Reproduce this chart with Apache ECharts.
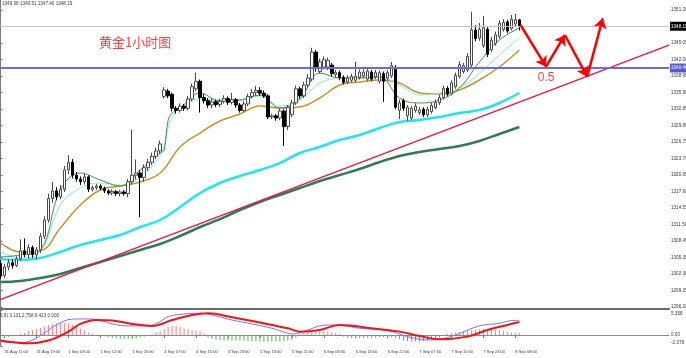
<!DOCTYPE html>
<html><head><meta charset="utf-8">
<script src="https://cdn.jsdelivr.net/npm/echarts@6/dist/echarts.min.js"></script>
<style>html,body{margin:0;padding:0;background:#fff}#c{width:686px;height:358px}</style>
</head><body><div id="c"></div>
<script>
// ---------- data ----------
const barOpen  = [1304.3,1302.0,1303.6,1304.4,1303.9,1305.1,1306.6,1305.9,1307.2,1305.9,1306.8,1309.3,1312.3,1316.3,1317.7,1316.6,1318.0,1321.6,1323.0,1320.6,1319.9,1319.4,1320.3,1318.0,1318.3,1318.6,1318.2,1317.7,1317.3,1317.6,1317.2,1317.5,1317.2,1319.4,1320.6,1321.0,1320.2,1322.0,1323.0,1324.1,1325.1,1335.2,1336.2,1335.6,1333.0,1332.6,1333.4,1333.0,1334.7,1336.6,1338.0,1335.0,1334.4,1333.6,1334.2,1333.7,1334.3,1334.8,1334.1,1334.6,1333.6,1332.6,1333.8,1335.2,1335.9,1336.3,1335.8,1335.3,1331.4,1331.6,1331.2,1332.5,1329.6,1331.8,1334.0,1336.6,1335.3,1337.3,1338.4,1343.4,1339.8,1340.6,1340.6,1341.0,1339.2,1339.6,1338.7,1337.9,1338.2,1338.2,1338.7,1339.0,1338.4,1339.7,1338.8,1338.0,1339.4,1338.6,1339.0,1340.6,1332.6,1334.4,1331.6,1331.2,1332.6,1332.2,1332.8,1331.8,1332.4,1333.1,1334.0,1335.0,1336.7,1335.8,1337.0,1338.9,1339.8,1340.1,1341.0,1347.5,1346.0,1344.6,1347.6,1343.8,1345.0,1346.3,1347.6,1349.0,1347.8,1348.6,1349.38];
const barClose = [1301.9,1303.6,1304.4,1303.9,1305.1,1306.6,1305.9,1307.2,1305.9,1306.8,1309.3,1312.3,1316.3,1317.7,1316.6,1318.0,1321.6,1323.0,1320.6,1319.9,1319.4,1320.3,1318.0,1318.3,1318.6,1318.2,1317.7,1317.3,1317.6,1317.2,1317.5,1317.2,1319.4,1320.6,1321.0,1320.2,1322.0,1323.0,1324.1,1325.1,1326.4,1336.4,1335.3,1333.0,1332.6,1333.4,1333.0,1334.7,1337.0,1338.0,1335.0,1334.4,1333.6,1334.2,1333.7,1334.3,1334.8,1334.1,1334.6,1333.6,1332.6,1333.8,1335.2,1335.9,1336.3,1335.8,1335.3,1331.4,1331.6,1331.2,1332.5,1329.6,1333.2,1334.0,1336.6,1335.3,1337.3,1338.6,1343.4,1340.4,1341.6,1342.0,1341.9,1339.4,1339.6,1338.7,1337.8,1338.6,1338.9,1338.9,1339.7,1339.7,1339.9,1338.4,1339.6,1339.6,1338.0,1339.6,1340.9,1333.2,1334.0,1333.0,1333.2,1333.0,1333.4,1332.7,1331.8,1332.8,1333.5,1334.1,1335.0,1336.7,1335.6,1337.7,1339.1,1341.1,1340.9,1342.6,1347.5,1345.9,1347.6,1347.9,1343.0,1345.6,1346.6,1348.7,1348.9,1347.3,1349.5,1349.4,1348.19];
const barHigh  = [1304.9,1304.2,1305.0,1305.0,1305.6,1308.7,1308.9,1307.8,1307.6,1307.3,1309.9,1313.0,1317.2,1319.4,1318.4,1318.8,1322.3,1324.3,1323.6,1321.2,1320.4,1320.9,1320.6,1318.7,1319.0,1318.9,1318.5,1318.0,1318.0,1317.9,1317.9,1317.8,1319.9,1329.0,1323.5,1321.6,1322.6,1323.6,1324.8,1325.7,1327.0,1336.9,1336.6,1335.9,1333.4,1333.9,1333.8,1335.3,1337.6,1339.6,1338.3,1335.6,1334.9,1334.8,1334.6,1334.8,1335.4,1335.2,1335.8,1334.9,1334.0,1334.4,1335.7,1336.6,1337.1,1336.9,1336.3,1335.6,1332.0,1331.9,1333.0,1332.8,1333.6,1334.6,1337.2,1337.0,1337.9,1339.3,1344.2,1343.8,1342.2,1342.6,1342.4,1341.4,1340.1,1340.0,1339.1,1339.1,1339.4,1341.6,1340.2,1340.2,1340.4,1340.1,1340.1,1340.0,1339.8,1340.1,1341.6,1341.0,1334.6,1334.8,1333.6,1333.4,1333.9,1333.2,1333.2,1333.3,1334.0,1334.6,1335.5,1337.2,1337.1,1338.2,1339.6,1341.7,1341.4,1343.2,1350.8,1348.4,1348.8,1350.1,1348.0,1346.2,1347.2,1349.3,1349.5,1349.4,1350.3,1350.5,1349.51];
const barLow   = [1301.4,1301.6,1303.0,1303.3,1303.6,1304.8,1305.4,1305.2,1305.3,1305.0,1306.2,1308.8,1311.8,1315.5,1316.0,1316.2,1317.5,1320.8,1320.0,1319.4,1318.8,1318.9,1317.5,1317.6,1317.9,1317.8,1317.3,1316.9,1316.9,1316.8,1316.7,1316.8,1316.5,1318.9,1319.8,1312.8,1319.4,1321.4,1322.5,1323.6,1324.6,1334.8,1334.9,1332.4,1332.0,1332.2,1332.5,1332.6,1334.3,1336.2,1332.2,1333.9,1333.1,1333.0,1333.2,1333.2,1333.9,1333.6,1333.7,1333.1,1332.2,1332.3,1333.4,1334.8,1335.4,1335.3,1334.9,1331.0,1331.0,1330.7,1330.8,1326.0,1329.0,1331.4,1333.6,1334.8,1334.9,1336.8,1338.0,1339.8,1339.4,1340.2,1340.1,1338.9,1338.8,1338.2,1337.4,1337.5,1337.8,1337.8,1338.3,1338.6,1338.0,1338.0,1338.4,1337.6,1334.2,1338.2,1338.6,1332.8,1331.0,1332.5,1330.6,1330.8,1332.2,1331.8,1331.4,1331.4,1332.0,1332.8,1333.6,1334.6,1335.2,1335.4,1336.6,1338.5,1339.4,1339.7,1340.6,1345.4,1345.5,1344.2,1342.5,1343.4,1344.6,1345.9,1347.2,1346.9,1347.4,1348.2,1347.40];

// moving averages, read at these bar positions
const maIdx   = [0,5,10,15,20,25,30,35,40,45,50,55,60,65,70,75,80,85,90,95,100,105,110,115,120,125,130];
const maGold  = [1308.05,1306.38,1306.57,1310.83,1315.09,1317.87,1318.6,1319.35,1321.01,1325.83,1328.42,1330.64,1331.94,1333.42,1333.05,1333.24,1334.9,1337.31,1337.87,1338.24,1337.68,1335.83,1335.64,1336.38,1338.24,1340.64,1343.79];
const maCyan  = [1305.08,1304.9,1305.27,1306.38,1307.68,1308.61,1309.53,1311.01,1312.31,1314.72,1317.31,1319.16,1320.46,1321.57,1322.86,1324.72,1325.83,1327.12,1328.05,1329.35,1330.46,1330.83,1331.38,1332.12,1332.68,1333.98,1335.83];
const maGreen = [1300.83,1301.01,1301.57,1302.31,1303.42,1304.53,1305.64,1306.76,1307.87,1309.35,1311.01,1312.49,1314.16,1315.64,1316.94,1318.23,1319.53,1320.64,1321.75,1323.05,1324.16,1324.9,1325.46,1326.01,1326.94,1328.24,1329.53];
const fastIdx = [0,5,10,15,20,25,30,35,40,41,42,43,45,50,55,60,65,70,75,80,85,90,95,100,105,110,115,120,125,130];
const maFast  = [1305.46,1305.83,1306.76,1317.87,1321.01,1319.72,1318.6,1321.57,1324.72,1325.27,1330.8,1332.1,1333.05,1335.83,1334.35,1334.53,1335.46,1333.05,1334.72,1339.53,1338.6,1338.6,1338.79,1334.9,1333.98,1334.53,1336.75,1341.57,1345.64,1347.86];
const aquaIdx = [0,5,10,15,20,25,30,35,40,42,43,45,50,55,60,65,70,75,80,85,90,95,100,105,110,115,120,125,130];
const maAqua  = [1306.38,1305.27,1306.38,1315.09,1318.23,1319.16,1318.79,1320.27,1324.35,1329.35,1331.38,1333.05,1334.72,1334.53,1334.53,1335.27,1333.42,1334.53,1337.68,1338.6,1338.79,1338.79,1337.31,1335.46,1335.83,1336.75,1339.53,1342.87,1346.01];

// trend line & annotation arrows
const trendIdx = [-0.5, 167.5];
const trendVal = [1297.44, 1344.7];
const arrowIdx = [130.3, 136.7, 141.4, 147.0, 150.9];
const arrowVal = [1348.42, 1340.70, 1346.57, 1338.85, 1349.66];
const arrowNote = ['', '0.5', '', '', ''];
const bidPrice = 1348.19;
const levelPrice = 1340.46;

// MACD panel
const macdHist = [-0.6,-0.5,-0.4,-0.3,-0.1,0.2,0.4,0.8,1.0,1.2,1.5,1.8,2.1,2.3,2.5,2.6,2.6,2.5,2.2,1.8,1.4,1.0,0.6,0.3,0.1,-0.2,-0.3,-0.5,-0.6,-0.7,-0.8,-0.8,-0.8,-0.8,-0.7,-0.5,-0.4,-0.1,0.2,0.6,0.8,1.3,1.7,1.9,1.9,1.7,1.4,1.2,1.0,0.9,0.8,0.3,-0.5,-0.8,-1.0,-1.1,-1.2,-1.2,-1.2,-1.2,-1.2,-1.2,-1.3,-1.3,-1.3,-1.4,-1.4,-1.4,-1.4,-1.4,-1.4,-1.3,-1.2,-1.0,-0.6,0.3,0.6,0.7,0.8,0.8,0.8,0.8,0.7,0.6,0.4,0.2,-0.4,-0.6,-0.7,-0.7,-0.7,-0.7,-0.6,-0.6,-0.6,-0.5,-0.5,-0.4,-0.4,-0.6,-0.9,-1.2,-1.3,-1.4,-1.4,-1.4,-1.3,-1.2,-1.0,-0.8,-0.5,-0.1,0.2,0.4,0.5,0.6,0.7,0.9,1.0,1.1,1.2,1.3,1.3,1.2,1.1,1.0,0.9,0.7,0.5,0.45,0.42];
const macdBlueIdx = [0,5,8,11,14,18,22,25,28,32,37,40,42,46,50,54,58,63,68,72,73,77,80,83,85,90,97,102,107,110,114,120,125,128,130];
const macdBlue    = [-1.44,-1.7,-1.1,0.4,2.15,3.4,3.44,3.08,2.37,1.94,1.94,2.87,3.94,4.5,4.66,4.09,3.2,2.37,1.43,0.36,0.2,1.07,1.94,2.15,2.1,1.43,0.93,-0.36,-1.07,-0.93,0,1.94,2.5,3.08,3.131];
const macdRedIdx  = [0,7,12,17,20,24,28,33,38,43,48,52,58,65,72,75,80,85,93,100,105,110,117,122,127,130];
const macdRed     = [-1.2,-1.8,-1.2,0.7,2.37,3.2,3.08,2.37,1.94,3.2,4.3,4.66,3.8,2.65,1.43,0.71,1.07,2.15,1.43,0.71,-0.21,-0.93,-0.36,1.07,2.15,2.758];

// axis labels
const xTickBars   = [1,9,17,25,33,41,49,57,65,73,81,89,97,105,113,121,129];
const xTickLabels = ['31 Aug 11:00','31 Aug 19:00','1 Sep 03:00','1 Sep 12:00','1 Sep 20:00','4 Sep 07:00','4 Sep 15:00','4 Sep 23:00','5 Sep 13:00','5 Sep 21:00','6 Sep 06:00','6 Sep 14:00','6 Sep 22:00','7 Sep 07:00','7 Sep 15:00','7 Sep 23:00','8 Sep 08:00'];
const yTickValues = [1296.20,1299.25,1302.30,1305.35,1308.45,1311.50,1314.55,1317.60,1320.65,1323.70,1326.75,1329.80,1332.85,1335.90,1338.95,1342.00,1345.05,1348.10,1351.20];
const yTickLabels = ['1296.20','1299.25','1302.30','1305.35','1308.45','1311.50','1314.55','1317.60','1320.65','1323.70','1326.75','1329.80','1332.85','1335.90','1338.95','1342.00','1345.05','1348.10','1351.20'];
const macdTickValues = [5.358, 0, -2.378];
const macdTickLabels = ['5.358', '0.00', '-2.378'];
const headerText = '1349.38 1349.51 1347.40 1348.19';
const titleText = '黄金1小时图';
const macdText = '5,9) 3.131 2.758 0.423 0.000';

// ---------- chart ----------
const N_SLOTS = 168;
const cats = Array.from({length: N_SLOTS}, (_, i) => String(i));
const candleData = barOpen.map((o, i) => [o, barClose[i], barLow[i], barHigh[i]]);
const pairs = (idx, vals) => idx.map((x, k) => [x, vals[k]]);
const isTick = (i) => xTickBars.indexOf(i) >= 0;
const nearest = (vals, v) => {
  let best = 0;
  vals.forEach((t, k) => { if (Math.abs(t - v) < Math.abs(vals[best] - v)) best = k; });
  return best;
};
const FONT = 'Liberation Sans';
const TXT = '#3a3a3a';

const chart = echarts.init(document.getElementById('c'), null, {renderer: 'canvas'});
const maLine = (name, idx, vals, color, width) => ({
  name, type: 'line', xAxisIndex: 2, yAxisIndex: 0, data: pairs(idx, vals),
  smooth: 0.4, showSymbol: false, silent: true, z: 3,
  lineStyle: {color, width}
});

chart.setOption({
  animation: false,
  backgroundColor: '#ffffff',
  title: [
    {text: headerText, left: 2, top: 1, padding: 0, textStyle: {fontSize: 4.6, fontWeight: 'normal', color: TXT, fontFamily: FONT}},
    {text: titleText, left: 99, top: 36, padding: 0, textStyle: {fontSize: 13, fontWeight: 'normal', color: '#ff4040', fontFamily: 'Noto Sans CJK SC'}},
    {text: macdText, left: 0, top: 313, padding: 0, textStyle: {fontSize: 4.6, fontWeight: 'normal', color: TXT, fontFamily: FONT}}
  ],
  grid: [
    {left: -1.5, top: 0, width: 670.5, height: 309, containLabel: false, outerBoundsMode: 'none'},
    {left: -1.5, top: 310, width: 670.5, height: 36, containLabel: false, outerBoundsMode: 'none'}
  ],
  xAxis: [
    {type: 'category', gridIndex: 0, data: cats, boundaryGap: true,
     axisLine: {show: true, lineStyle: {color: '#6b6b6b', width: 2}}, axisTick: {show: false}, axisLabel: {show: false}, splitLine: {show: false}},
    {type: 'category', gridIndex: 1, data: cats, boundaryGap: true,
     axisLine: {show: true, lineStyle: {color: '#8a8a8a', width: 1}},
     axisTick: {show: true, alignWithLabel: true, interval: (i) => isTick(i), length: 3, lineStyle: {color: '#777'}},
     axisLabel: {interval: (i) => isTick(i), showMinLabel: true, showMaxLabel: true, hideOverlap: false,
       formatter: (v) => xTickLabels[xTickBars.indexOf(Number(v))] || '',
       fontSize: 4, color: TXT, align: 'left', margin: 4, fontFamily: FONT},
     splitLine: {show: false}},
    {type: 'value', gridIndex: 0, min: -0.5, max: N_SLOTS - 0.5, show: false},
    {type: 'value', gridIndex: 1, min: -0.5, max: N_SLOTS - 0.5, show: false}
  ],
  yAxis: [
    {type: 'value', gridIndex: 0, position: 'right', min: 1295.83, max: 1353.05,
     axisLine: {show: true, lineStyle: {color: '#7a7a7a', width: 1}},
     axisTick: {show: true, length: 2, customValues: yTickValues, lineStyle: {color: '#777'}},
     axisLabel: {customValues: yTickValues, formatter: (v) => yTickLabels[nearest(yTickValues, v)],
       fontSize: 4.6, color: TXT, margin: 2, fontFamily: FONT, hideOverlap: false},
     splitLine: {show: false}},
    {type: 'value', gridIndex: 1, position: 'right', min: -2.378, max: 5.358,
     axisLine: {show: true, lineStyle: {color: '#7a7a7a', width: 1}},
     axisTick: {show: true, length: 2, customValues: macdTickValues, lineStyle: {color: '#777'}},
     axisLabel: {customValues: macdTickValues, hideOverlap: false,
       formatter: (v) => { const k = nearest(macdTickValues, v); return '{' + ['mx', 'md', 'mn'][k] + '|' + macdTickLabels[k] + '}'; },
       fontSize: 4.6, color: TXT, margin: 2, fontFamily: FONT,
       rich: {
         mx: {fontSize: 4.6, color: TXT, fontFamily: FONT, padding: [7, 0, 0, 0]},
         md: {fontSize: 4.6, color: TXT, fontFamily: FONT},
         mn: {fontSize: 4.6, color: TXT, fontFamily: FONT, padding: [0, 0, 6, 0]}
       }},
     splitLine: {show: false}}
  ],
  series: [
    maLine('MA120', maIdx, maGreen, '#2f7d4e', 2.5),
    maLine('MA60', maIdx, maCyan, '#1fe6f2', 2.5),
    {name: 'trend', type: 'line', xAxisIndex: 2, yAxisIndex: 0, data: pairs(trendIdx, trendVal),
     showSymbol: false, silent: true, z: 3, lineStyle: {color: '#e8194c', width: 1.5}},
    {name: 'price', type: 'candlestick', xAxisIndex: 0, yAxisIndex: 0, data: candleData, barWidth: 3, z: 4,
     itemStyle: {color: '#ffffff', color0: '#000000', borderColor: '#4a4a4a', borderColor0: '#000000', borderWidth: 1},
     markLine: {silent: true, symbol: ['none', 'none'], animation: false,
       data: [
         {yAxis: bidPrice, lineStyle: {color: '#c4c4c4', width: 1, type: 'solid'},
          label: {show: true, position: 'end', distance: 1, formatter: bidPrice.toFixed(2), backgroundColor: '#000', color: '#fff', fontSize: 4.6, padding: [2, 1], fontFamily: FONT}},
         {yAxis: levelPrice, lineStyle: {color: '#6b6be0', width: 2, type: 'solid'},
          label: {show: true, position: 'end', distance: 1, formatter: levelPrice.toFixed(2), backgroundColor: '#5a5ad8', color: '#fff', fontSize: 4.6, padding: [2, 1], fontFamily: FONT}}
       ]}},
    maLine('MA20', maIdx, maGold, '#c8922a', 1.5),
    maLine('MA10', aquaIdx, maAqua, '#80f0c8', 1),
    maLine('MA5', fastIdx, maFast, '#3f8f4f', 1),
    {name: 'arrows', type: 'line', xAxisIndex: 2, yAxisIndex: 0, z: 6, silent: true,
     data: arrowIdx.map((x, k) => ({value: [x, arrowVal[k]],
       label: {show: !!arrowNote[k], position: 'bottom', distance: 5, formatter: arrowNote[k], color: '#ff4040', fontSize: 12, fontFamily: 'Liberation Sans'}})),
     showSymbol: true, symbolSize: 0, lineStyle: {width: 0, opacity: 0},
     markLine: {silent: true, symbol: ['none', 'arrow'], symbolSize: 10, animation: false,
       lineStyle: {color: '#ff0000', width: 2.5, type: 'solid'}, label: {show: false},
       data: arrowIdx.slice(0, -1).map((x, k) => [{coord: [x, arrowVal[k]]}, {coord: [arrowIdx[k + 1], arrowVal[k + 1]]}])}},
    {name: 'hist', type: 'bar', xAxisIndex: 1, yAxisIndex: 1, barWidth: 1, silent: true,
     data: macdHist.map(v => ({value: v, itemStyle: {color: v >= 0 ? '#ff7878' : '#4caf50'}}))},
    {name: 'macd', type: 'line', xAxisIndex: 3, yAxisIndex: 1, data: pairs(macdBlueIdx, macdBlue), smooth: 0.4,
     showSymbol: false, silent: true, lineStyle: {color: '#7474ff', width: 1}},
    {name: 'signal', type: 'line', xAxisIndex: 3, yAxisIndex: 1, data: pairs(macdRedIdx, macdRed), smooth: 0.4,
     showSymbol: false, silent: true, lineStyle: {color: '#ff1010', width: 2}}
  ]
});
</script>
</body></html>
